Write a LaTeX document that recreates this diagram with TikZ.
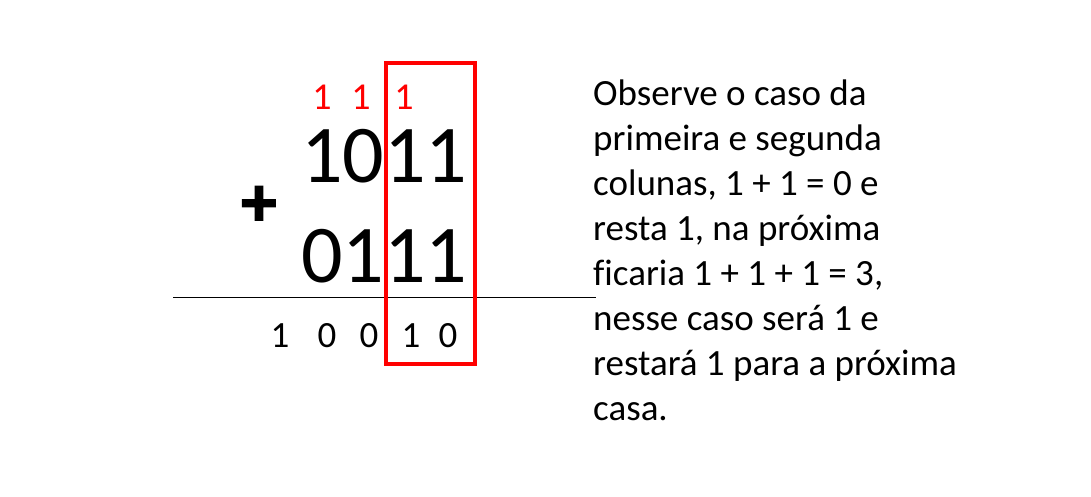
\documentclass[tikz,border=0pt]{standalone}
\usepackage{fontspec}
\setmainfont{Carlito}[Ligatures=CommonOff]
\newfontfamily\heavyplus[FakeBold=2.5]{Carlito Bold}
\usetikzlibrary{positioning}
\definecolor{carryred}{RGB}{255,0,0}

\begin{document}
\begin{tikzpicture}
          [x=1pt,y=-1pt,every node/.style={inner sep=0pt,anchor=base},
           bigdigit/.style={font=\fontsize{82}{82}\selectfont,anchor=base west},
           carry/.style={text=carryred,font=\fontsize{38}{38}\selectfont},
           sumdigit/.style={font=\fontsize{37}{37}\selectfont},
           note/.style={font=\fontsize{37}{45}\selectfont,anchor=base west}]
          \useasboundingbox (0,0) rectangle (1091,496);
          % carries
          \node[carry] (c1) at (322,109) {1};
          \node[carry] (c2) at (361,109) {1};
          \node[carry] (c3) at (404,109) {1};
          % operands
          \node[bigdigit] (top) at (301,182) {1011};
          \node[bigdigit] (bot) at (301,282) {0111};
          \node[font=\fontsize{70}{70}\heavyplus,anchor=center] (plus) at (259,206) {+};
          \draw[line width=1pt] (173,297) -- (596,297);
          % result
          \foreach \d/\x [count=\i] in {1/280,0/327,0/369,1/411,0/448}
            \node[sumdigit] (r\i) at (\x,347) {\d};
          % highlighted column
          \draw[carryred,line width=4pt] (386,63) rectangle (475,364);
          % explanation
          \foreach \txt [count=\i] in {Observe o caso da,primeira e segunda,{colunas, 1 + 1 = 0 e},{resta 1, na próxima},{ficaria 1 + 1 + 1 = 3,},nesse caso será 1 e,restará 1 para a próxima,casa.}
            \node[note] (t\i) at (593,60+45*\i) {\txt};
        \end{tikzpicture}
\end{document}
